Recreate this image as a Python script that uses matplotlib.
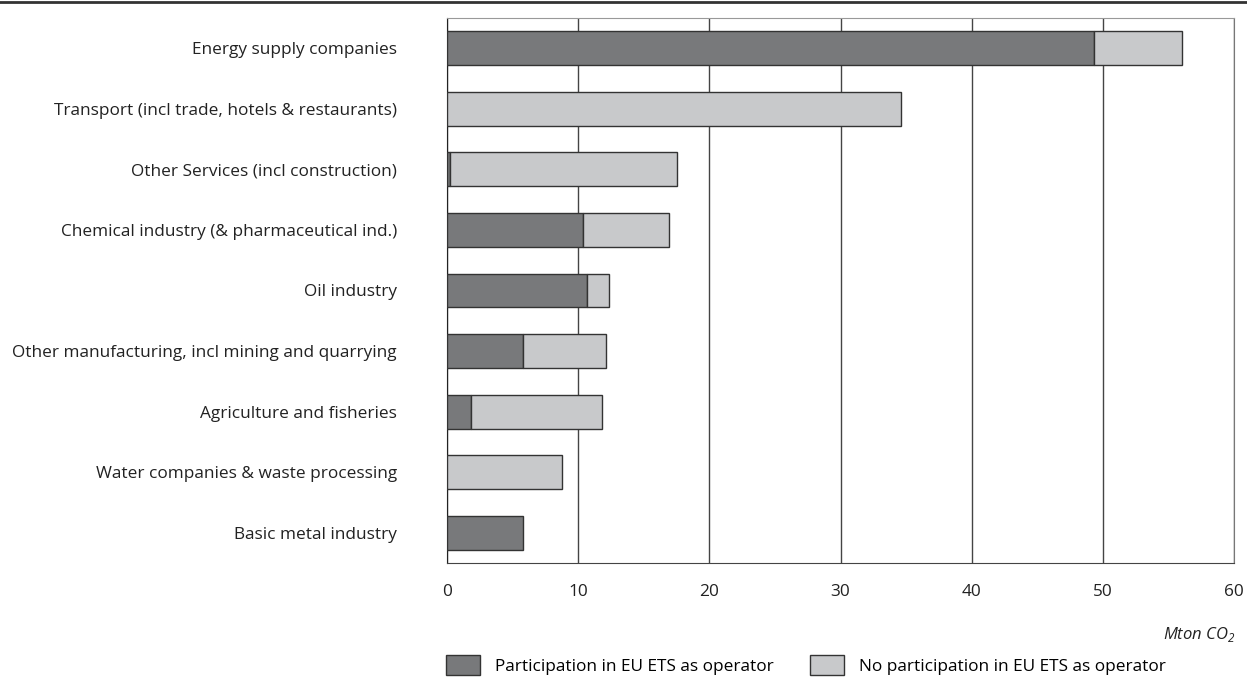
import numpy as np
import matplotlib.pyplot as plt
from matplotlib.lines import Line2D

# ---- data (Mton CO2) ----
sectors = [
    "Energy supply companies",
    "Transport (incl trade, hotels & restaurants)",
    "Other Services (incl construction)",
    "Chemical industry (& pharmaceutical ind.)",
    "Oil industry",
    "Other manufacturing, incl mining and quarrying",
    "Agriculture and fisheries",
    "Water companies & waste processing",
    "Basic metal industry",
]
ets_part = [49.3, 0.0, 0.2, 10.4, 10.7, 5.8, 1.8, 0.0, 5.8]
no_ets = [6.7, 34.6, 17.3, 6.5, 1.65, 6.3, 10.05, 8.75, 0.0]
series_names = ["Participation in EU ETS as operator",
                "No participation in EU ETS as operator"]
xticks = [0, 10, 20, 30, 40, 50, 60]

DARK = "#78797b"
LIGHT = "#c8c9cb"
EDGE = "#333333"
FS = 12.4

plt.rcParams['font.family'] = ['Open Sans', 'DejaVu Sans']

fig = plt.figure(figsize=(12.47, 6.81), dpi=100)
ax = fig.add_axes([447 / 1247, 1 - 563 / 681, 787 / 1247, 545 / 681])

y = np.arange(len(sectors))
h = 0.56
b1 = ax.barh(y, ets_part, height=h, color=DARK, edgecolor=EDGE, linewidth=1, zorder=3,
             label=series_names[0])
b2 = ax.barh(y, no_ets, left=ets_part, height=h, color=LIGHT, edgecolor=EDGE, linewidth=1,
             zorder=3, label=series_names[1])
# hide zero-width bars
for bars in (b1, b2):
    for r in bars:
        if r.get_width() == 0:
            r.set_visible(False)

ax.set_ylim(len(sectors) - 0.5, -0.5)
ax.set_xlim(0, 60)
ax.set_xticks(xticks)
ax.set_yticks(y)
ax.set_yticklabels(sectors, fontsize=FS, color="#222222")
ax.tick_params(axis='y', length=0, pad=36)
ax.tick_params(axis='x', length=0, pad=15, labelsize=FS, labelcolor="#222222")

ax.grid(axis='x', color="#444444", linewidth=1, zorder=0)
ax.spines['left'].set_color("#222222")
ax.spines['bottom'].set_color("#444444")
ax.spines['top'].set_color("#999999")
ax.spines['right'].set_color("#777777")

fig.text(1236 / 1247, 1 - 634 / 681, r"Mton CO$_\mathregular{2}$", style='italic',
         ha='right', va='center', fontsize=12, color="#222222")

# rule across the top of the figure
fig.add_artist(Line2D([0, 1], [1 - 2 / 681, 1 - 2 / 681], color="#333333", linewidth=2))

fig.legend(handles=[b1, b2], labels=series_names, loc='center left',
           bbox_to_anchor=(430 / 1247, 1 - 665 / 681), ncol=2, frameon=False,
           fontsize=FS, handlelength=2.0, handleheight=1.34, handletextpad=0.85,
           columnspacing=2.1)

fig.savefig("out.png", dpi=100)
